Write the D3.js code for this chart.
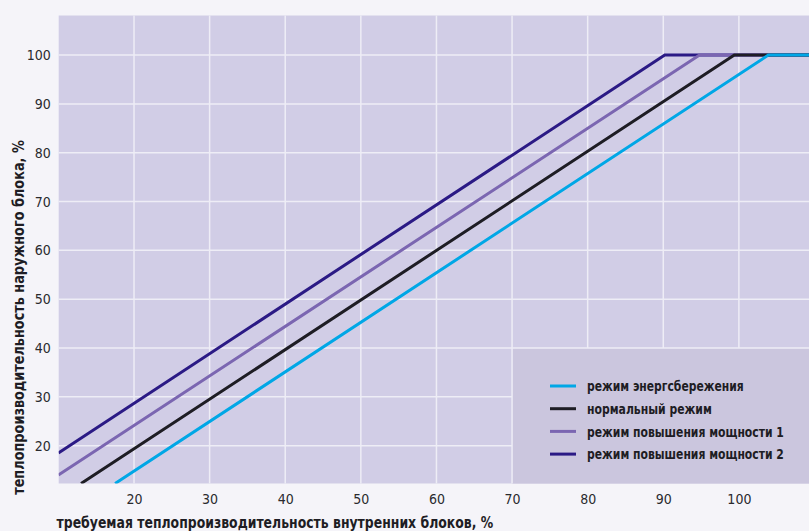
<!DOCTYPE html>
<html><head><meta charset="utf-8">
<script src="https://cdn.jsdelivr.net/npm/d3@7"></script>
<style>
html,body{margin:0;padding:0;background:#f5f4f9;}
svg{display:block;}
text{font-family:"DejaVu Sans Condensed","DejaVu Sans",sans-serif;}
</style></head>
<body><svg id="c" width="809" height="531"></svg>
<script>
const xTicks = [20, 30, 40, 50, 60, 70, 80, 90, 100];
const yTicks = [20, 30, 40, 50, 60, 70, 80, 90, 100];
const seriesNames = ["режим энергсбережения", "нормальный режим", "режим повышения мощности 1", "режим повышения мощности 2"];
const seriesColors = ["#00a7e6", "#1e1d24", "#7b66b1", "#2b1a85"];
// [x, y] points: requested indoor % -> outdoor %
const energySaving = [[17.5, 12.25], [103.9, 100], [110, 100]];
const normalMode = [[13.0, 12.25], [99.4, 100], [110, 100]];
const boost1 = [[10, 14.0], [94.8, 100], [110, 100]];
const boost2 = [[10, 18.5], [90.2, 100], [110, 100]];
const seriesData = [energySaving, normalMode, boost1, boost2];
const xTitle = "требуемая теплопроизводительность внутренних блоков, %";
const yTitle = "теплопроизводительность наружного блока, %";

const svg = d3.select("#c");
const L = 58.7, T = 15.5, B = 483.5;
const x = d3.scaleLinear().domain([10, 110]).range([58.4, 814.5]);
const y = d3.scaleLinear().domain([12.25, 108.1]).range([B, T]);
const R = 809;

svg.append("rect").attr("x", L).attr("y", T).attr("width", R - L).attr("height", B - T).attr("fill", "#d1cde6");

// legend box region (x from 70, y below 40)
svg.append("rect").attr("x", x(70)).attr("y", y(40)).attr("width", R - x(70)).attr("height", B - y(40)).attr("fill", "#cbc6de");

const grid = svg.append("g");
xTicks.forEach(v => {
  grid.append("line").attr("x1", x(v)).attr("x2", x(v)).attr("y1", T).attr("y2", v > 70 ? y(40) : B)
    .attr("stroke", "#eeedf6").attr("stroke-width", 1.5);
});
yTicks.forEach(v => {
  grid.append("line").attr("x1", L).attr("x2", v < 40 ? x(70) : R).attr("y1", y(v)).attr("y2", y(v))
    .attr("stroke", "#eeedf6").attr("stroke-width", 1.5);
});

svg.append("clipPath").attr("id", "clip").append("rect").attr("x", L).attr("y", T).attr("width", R - L).attr("height", B - T);

const line = d3.line().x(d => x(d[0])).y(d => y(d[1]));
const order = [3, 2, 1, 0];
const lines = svg.append("g").attr("clip-path", "url(#clip)");
order.forEach(i => {
  lines.append("path").attr("d", line(seriesData[i])).attr("fill", "none")
    .attr("stroke", seriesColors[i]).attr("stroke-width", 3);
});

// axes labels
const tickFont = "'DejaVu Sans Condensed','DejaVu Sans',sans-serif";
const xAxis = d3.axisBottom(x).tickValues(xTicks).tickSize(0).tickPadding(0);
const gx = svg.append("g").attr("transform", `translate(0,${B})`).call(xAxis);
gx.select(".domain").remove();
gx.selectAll("text").attr("dy", null).attr("y", 20).attr("font-size", 14).attr("fill", "#2a2a2e")
  .attr("font-family", tickFont).attr("font-weight", 300);

const yAxis = d3.axisLeft(y).tickValues(yTicks).tickSize(0).tickPadding(0);
const gy = svg.append("g").attr("transform", `translate(${L - 8},0)`).call(yAxis);
gy.select(".domain").remove();
gy.selectAll("text").attr("font-size", 14).attr("fill", "#2a2a2e")
  .attr("font-family", tickFont).attr("font-weight", 300);

// helper: horizontally condense text to a target width
function fitText(sel, target) {
  const w = sel.node().getComputedTextLength();
  return Math.min(1, target / w);
}

const xt = svg.append("g");
const xtText = xt.append("text").attr("font-size", 16).attr("font-weight", "bold").attr("fill", "#1e1d24").text(xTitle);
xt.attr("transform", `translate(56.5,528) scale(${fitText(xtText, 437)},1)`);

const yt = svg.append("g");
const ytText = yt.append("text").attr("text-anchor", "middle").attr("font-size", 16).attr("font-weight", "bold")
  .attr("fill", "#1e1d24").text(yTitle);
yt.attr("transform", `translate(23.5,317.5) rotate(-90) scale(${fitText(ytText, 355)},1)`);

// legend
const legendLens = [157, 125, 197, 197];
const lg = svg.append("g");
seriesNames.forEach((n, i) => {
  const yy = 386 + i * 22.7;
  lg.append("line").attr("x1", 550).attr("x2", 576).attr("y1", yy).attr("y2", yy)
    .attr("stroke", seriesColors[i]).attr("stroke-width", 3);
  const g = lg.append("g");
  const t = g.append("text").attr("dy", "0.36em").attr("font-size", 14.5)
    .attr("font-weight", "bold").attr("fill", "#1e1d24").text(n);
  g.attr("transform", `translate(587,${yy}) scale(${fitText(t, legendLens[i])},1)`);
});
</script></body></html>
